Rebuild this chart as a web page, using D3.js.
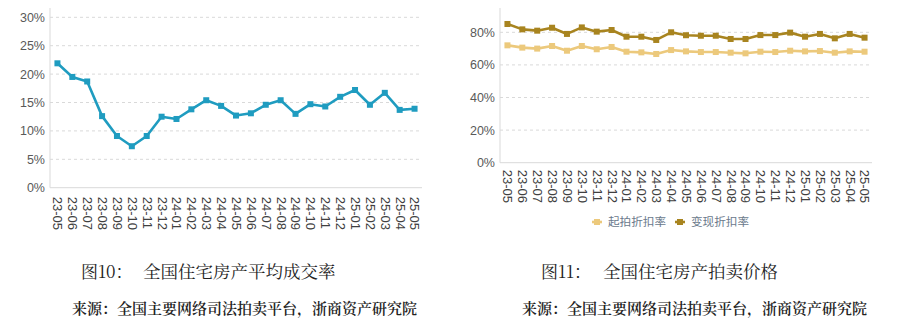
<!DOCTYPE html>
<html>
<head>
<meta charset="utf-8">
<script src="https://cdn.jsdelivr.net/npm/d3@7"></script>
<style>
  html, body { margin: 0; padding: 0; background: #fff; }
  svg { display: block; }
  .tick text { font-family: "Liberation Sans", Arial, sans-serif; }
</style>
</head>
<body>
<svg id="chart" width="900" height="325"></svg>
<script>
// Months shared by both panels
const months = ["23-05","23-06","23-07","23-08","23-09","23-10","23-11","23-12",
  "24-01","24-02","24-03","24-04","24-05","24-06","24-07","24-08","24-09","24-10",
  "24-11","24-12","25-01","25-02","25-03","25-04","25-05"];

// 图10: average transaction rate (%)
const dealRate = [21.9,19.5,18.7,12.6,9.1,7.3,9.1,12.5,12.1,13.8,15.4,14.4,12.7,
  13.1,14.6,15.4,13.0,14.7,14.3,16.0,17.2,14.6,16.7,13.7,13.9];

// 图11: auction price discount rates (%)
const startDiscount = [72.0,70.6,70.0,71.6,68.7,71.6,69.6,71.0,68.1,67.7,66.7,69.1,
  68.3,67.9,67.9,67.5,67.1,68.1,67.9,68.7,68.3,68.5,67.5,68.3,68.1];
const realizedDiscount = [85.1,81.8,81.0,82.8,79.0,83.0,80.4,81.4,77.3,77.3,75.3,80.0,
  78.2,77.9,77.9,75.9,75.9,78.3,78.3,79.8,77.3,79.0,76.3,79.0,76.7];

const leftTicks = [0,5,10,15,20,25,30];
const rightTicks = [0,20,40,60,80];

const seriesNames = ["起拍折扣率","变现折扣率"];
const captions = [
  {num: "图10：", title: "全国住宅房产平均成交率"},
  {num: "图11：", title: "全国住宅房产拍卖价格"}
];
const sourceText = "来源：全国主要网络司法拍卖平台，浙商资产研究院";

const svg = d3.select("#chart");
const gridColor = "#d9d9d9";
const labelColor = "#595959";

function panel(opts) {
  const g = svg.append("g");
  const x = d3.scalePoint().domain(months).range([opts.x0, opts.x1]).padding(0.5);
  const y = d3.scaleLinear().domain(opts.domain).range([opts.yBottom, opts.yTop]);

  // dashed horizontal grid
  g.append("g").selectAll("line")
    .data(opts.ticks.filter(t => t > 0))
    .join("line")
    .attr("x1", opts.x0).attr("x2", opts.x1)
    .attr("y1", d => y(d)).attr("y2", d => y(d))
    .attr("stroke", gridColor).attr("stroke-width", 1)
    .attr("stroke-dasharray", "3,3");

  // axis frame lines
  g.append("line")
    .attr("x1", opts.x0).attr("x2", opts.x0)
    .attr("y1", opts.axisTop).attr("y2", y(0))
    .attr("stroke", gridColor).attr("stroke-width", 1);
  g.append("line")
    .attr("x1", opts.x0).attr("x2", opts.x1)
    .attr("y1", y(0)).attr("y2", y(0))
    .attr("stroke", gridColor).attr("stroke-width", 1);

  // y axis labels
  const yAxis = d3.axisLeft(y).tickValues(opts.ticks).tickSize(0).tickPadding(5)
    .tickFormat(d => d + "%");
  g.append("g").attr("transform", `translate(${opts.x0},0)`).call(yAxis)
    .call(a => a.select(".domain").remove())
    .call(a => a.selectAll("text")
      .attr("fill", labelColor).attr("font-size", 12.5));

  // x axis labels, rotated to read downward
  const xAxis = d3.axisBottom(x).tickSize(0).tickPadding(0);
  g.append("g").attr("transform", `translate(0,${y(0)})`).call(xAxis)
    .call(a => a.select(".domain").remove())
    .call(a => a.selectAll("text")
      .attr("fill", "#404040").attr("font-size", 13)
      .attr("text-anchor", "start")
      .attr("transform", "rotate(90)")
      .attr("x", opts.labelGap).attr("y", 0).attr("dy", "0.35em"));

  // series lines with square markers
  opts.series.forEach(s => {
    const line = d3.line().x((d, i) => x(months[i])).y(d => y(d));
    g.append("path").datum(s.values)
      .attr("d", line)
      .attr("fill", "none").attr("stroke", s.color)
      .attr("stroke-width", 2.6).attr("stroke-linejoin", "round");
    g.append("g").selectAll("rect").data(s.values).join("rect")
      .attr("x", (d, i) => x(months[i]) - 3)
      .attr("y", d => y(d) - 3)
      .attr("width", 6).attr("height", 6)
      .attr("fill", s.color);
  });
  return {x, y};
}

const teal = "#1f9cc0";
const gold = "#a8841f";
const sand = "#ecc97c";

panel({
  x0: 50, x1: 422, yBottom: 187.7, yTop: 17.3, axisTop: 8,
  domain: [0, 30], ticks: leftTicks, labelGap: 9,
  series: [{values: dealRate, color: teal}]
});

panel({
  x0: 500, x1: 872, yBottom: 162.7, yTop: 32.3, axisTop: 8,
  domain: [0, 80], ticks: rightTicks, labelGap: 7,
  series: [
    {values: startDiscount, color: sand},
    {values: realizedDiscount, color: gold}
  ]
});

// legend for 图11
const legend = svg.append("g").attr("transform", "translate(0,222)");
const legendItems = [
  {name: seriesNames[0], color: sand, x: 592},
  {name: seriesNames[1], color: gold, x: 675}
];
legendItems.forEach(it => {
  legend.append("line").attr("x1", it.x).attr("x2", it.x + 10)
    .attr("y1", 0).attr("y2", 0).attr("stroke", it.color).attr("stroke-width", 2.6);
  legend.append("rect").attr("x", it.x + 2).attr("y", -3).attr("width", 6).attr("height", 6)
    .attr("fill", it.color);
  legend.append("text").attr("x", it.x + 16).attr("y", 0).attr("dy", "0.35em")
    .attr("font-family", '"Noto Sans CJK SC", sans-serif').attr("font-size", 11.6)
    .attr("fill", "#6b7a8c").text(it.name);
});

// captions and source lines
const serif = '"Noto Serif CJK SC", "Noto Sans CJK SC", serif';
const capPos = [{numX: 81, titleX: 143, srcX: 72}, {numX: 541, titleX: 603, srcX: 522}];
captions.forEach((c, i) => {
  const p = capPos[i];
  svg.append("text").attr("x", p.numX).attr("y", 272).attr("dy", "0.35em")
    .attr("font-family", serif).attr("font-size", 17).attr("fill", "#222")
    .text(c.num);
  svg.append("text").attr("x", p.titleX).attr("y", 272).attr("dy", "0.35em")
    .attr("font-family", serif).attr("font-size", 17.5).attr("fill", "#222")
    .text(c.title);
  svg.append("text").attr("x", p.srcX).attr("y", 309).attr("dy", "0.35em")
    .attr("font-family", serif).attr("font-size", 15).attr("font-weight", 600)
    .attr("fill", "#222").text(sourceText);
});
</script>
</body>
</html>
